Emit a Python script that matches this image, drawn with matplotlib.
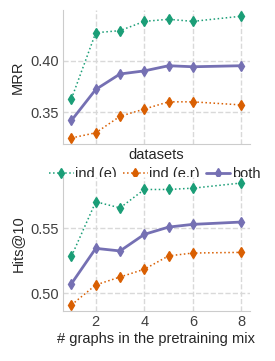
import matplotlib
matplotlib.use("Agg")
import matplotlib.pyplot as plt
import seaborn as sns

sns.set_style("whitegrid", {"grid.linestyle": "--"})
plt.rcParams['font.family'] = ['Liberation Sans', 'DejaVu Sans']

n_graphs = [1, 2, 3, 4, 5, 6, 8]

mrr_ind_e = [0.363, 0.427, 0.429, 0.438, 0.440, 0.438, 0.443]
mrr_ind_er = [0.325, 0.330, 0.346, 0.353, 0.360, 0.360, 0.357]
mrr_both = [0.342, 0.372, 0.387, 0.390, 0.395, 0.394, 0.395]

hits_ind_e = [0.5285, 0.5705, 0.5658, 0.580, 0.580, 0.581, 0.585]
hits_ind_er = [0.491, 0.5064, 0.5125, 0.5185, 0.5288, 0.531, 0.5315]
hits_both = [0.5074, 0.5346, 0.5326, 0.5454, 0.551, 0.5531, 0.5549]

labels = ["ind (e)", "ind (e,r)", "both"]
colors = sns.color_palette("Dark2", 3)

fig = plt.figure(figsize=(2.75, 3.61), dpi=100)
ax1 = fig.add_axes([0.229, 0.601, 0.68, 0.371])
ax2 = fig.add_axes([0.229, 0.1385, 0.68, 0.3715])

def draw(ax, ys):
    for y, c, lab in zip(ys, colors, labels):
        if lab == "both":
            ax.plot(n_graphs, y, color=c, marker="d", markersize=5.5, lw=2, ls="-", label=lab)
        else:
            ax.plot(n_graphs, y, color=c, marker="d", markersize=5.5, lw=1.1, ls=":", label=lab)
    ax.grid(True, color=".85", ls="--", lw=1)
    ax.set_xticks([2, 4, 6, 8])
    sns.despine(ax=ax)
    for s in ["left", "bottom"]:
        ax.spines[s].set_color(".8")
    ax.tick_params(labelsize=10.5, colors=".25", length=0, pad=3)

draw(ax1, [mrr_ind_e, mrr_ind_er, mrr_both])
ax1.set_xticklabels([])
ax1.set_ylabel("MRR", fontsize=10.5, color=".15")
ax1.set_xlabel("datasets", fontsize=10.5, color=".15")
ax1.xaxis.set_label_coords(0.5, -0.03)
ax1.set_yticks([0.35, 0.40])

draw(ax2, [hits_ind_e, hits_ind_er, hits_both])
ax2.set_ylabel("Hits@10", fontsize=10.5, color=".15")
ax2.set_xlabel("# graphs in the pretraining mix", fontsize=10.5, color=".15", labelpad=2)
ax2.set_yticks([0.50, 0.55])

ax1.legend(loc="center", bbox_to_anchor=(0.49, -0.225), ncol=3, frameon=False,
           fontsize=10.5, handlelength=1.7, handletextpad=0.1, columnspacing=0.4,
           labelcolor=".15", borderpad=0, borderaxespad=0)

fig.savefig("out.png", dpi=100)
